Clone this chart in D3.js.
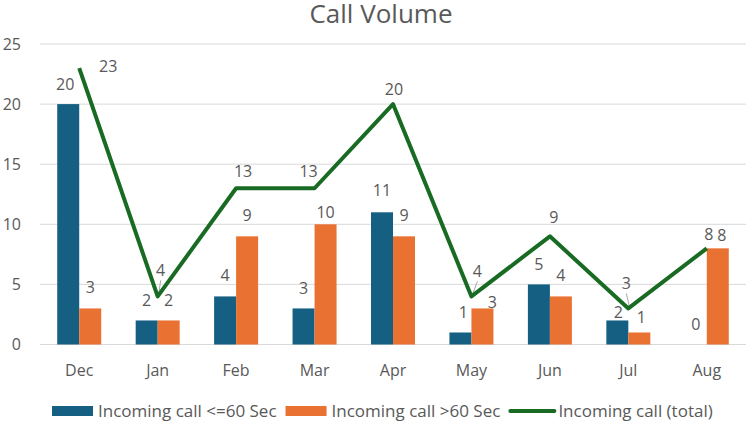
<!DOCTYPE html>
<html>
<head>
<meta charset="utf-8">
<script src="https://cdn.jsdelivr.net/npm/d3@7"></script>
<style>
  body { margin: 0; background: #fff; }
  svg text { font-family: "Open Sans", "Liberation Sans", sans-serif; fill: #595959; }
</style>
</head>
<body>
<div id="chart"></div>
<script>
// data
const months = ["Dec", "Jan", "Feb", "Mar", "Apr", "May", "Jun", "Jul", "Aug"];
const shortCalls = [20, 2, 4, 3, 11, 1, 5, 2, 0];   // <=60 Sec
const longCalls = [3, 2, 9, 10, 9, 3, 4, 1, 8];     // >60 Sec
const totalCalls = [23, 4, 13, 13, 20, 4, 9, 3, 8];
const yTicks = [0, 5, 10, 15, 20, 25];
const seriesNames = ["Incoming call <=60 Sec", "Incoming call >60 Sec", "Incoming call (total)"];

const W = 750, H = 424;
const colors = ["#156082", "#E97132", "#196B24"];

// label nudges (dx, dy) - the labels in the original were moved by hand in places
const shortOff = [[-3,-20],[0,-20],[0,-21],[0,-20],[0,-22],[3,-20],[0,-20],[1,-8],[0,-20]];
const longOff = [[0,-21],[0,-20],[0,-21],[0,-12],[0,-21],[10,-6],[0,-21],[2,-15],[4,-13]];
const totalOff = [[29,-2],[3,-26],[7,-17],[-6,-17],[1,-15],[6,-25],[4,-19],[-2,-25],[2,-14]];

const svg = d3.select("#chart").append("svg")
  .attr("width", W)
  .attr("height", H);

const x = d3.scaleBand()
  .domain(months)
  .range([40, 746])
  .padding(0);

const xs = d3.scaleBand()
  .domain([0, 1])
  .range([0, x.bandwidth()])
  .paddingInner(0)
  .paddingOuter(0.783);

const y = d3.scaleLinear()
  .domain([0, 25])
  .range([344.5, 44]);

// gridlines
svg.append("g")
  .selectAll("line")
  .data(yTicks)
  .join("line")
  .attr("x1", 40)
  .attr("x2", 746)
  .attr("y1", d => y(d))
  .attr("y2", d => y(d))
  .attr("stroke", "#d9d9d9")
  .attr("stroke-width", 1);

// y axis labels
svg.append("g")
  .selectAll("text")
  .data(yTicks)
  .join("text")
  .attr("x", 21)
  .attr("y", d => y(d))
  .attr("dy", "0.35em")
  .attr("text-anchor", "end")
  .style("font-size", "16px")
  .text(d => d);

// x axis labels
svg.append("g")
  .selectAll("text")
  .data(months)
  .join("text")
  .attr("x", d => x(d) + x.bandwidth() / 2)
  .attr("y", 370)
  .attr("dy", "0.35em")
  .attr("text-anchor", "middle")
  .style("font-size", "16px")
  .text(d => d);

// title
svg.append("text")
  .attr("x", 381)
  .attr("y", 23)
  .attr("text-anchor", "middle")
  .style("font-size", "26px")
  .text("Call Volume");

// bars
const barSeries = [shortCalls, longCalls];
const barOffs = [shortOff, longOff];

barSeries.forEach((vals, si) => {
  const g = svg.append("g");
  g.selectAll("rect")
    .data(vals)
    .join("rect")
    .attr("x", (d, i) => x(months[i]) + xs(si))
    .attr("y", d => y(d))
    .attr("width", xs.bandwidth())
    .attr("height", d => y(0) - y(d))
    .attr("fill", colors[si]);

  g.selectAll("text")
    .data(vals)
    .join("text")
    .attr("x", (d, i) => x(months[i]) + xs(si) + xs.bandwidth() / 2 + barOffs[si][i][0])
    .attr("y", (d, i) => y(d) + barOffs[si][i][1])
    .attr("dy", "0.35em")
    .attr("text-anchor", "middle")
    .style("font-size", "16px")
    .text(d => d);
});

// total line
const cx = i => x(months[i]) + x.bandwidth() / 2;

const line = d3.line()
  .x((d, i) => cx(i))
  .y(d => y(d));

// little leader lines where labels were dragged away
svg.append("g")
  .selectAll("line")
  .data(totalCalls.map((d, i) => ({ d, i })).filter(p => totalOff[p.i][1] < -22))
  .join("line")
  .attr("x1", p => cx(p.i) + totalOff[p.i][0])
  .attr("y1", p => y(p.d) + totalOff[p.i][1] + 10)
  .attr("x2", p => cx(p.i) + 1)
  .attr("y2", p => y(p.d) - 2)
  .attr("stroke", "#a6a6a6")
  .attr("stroke-width", 1);

svg.append("path")
  .datum(totalCalls)
  .attr("fill", "none")
  .attr("stroke", colors[2])
  .attr("stroke-width", 4)
  .attr("stroke-linejoin", "round")
  .attr("d", line);

svg.append("g")
  .selectAll("text")
  .data(totalCalls)
  .join("text")
  .attr("x", (d, i) => cx(i) + totalOff[i][0])
  .attr("y", (d, i) => y(d) + totalOff[i][1])
  .attr("dy", "0.35em")
  .attr("text-anchor", "middle")
  .style("font-size", "16px")
  .text(d => d);

// legend
const legend = svg.append("g").attr("transform", "translate(52,411)");
let lx = 0;
seriesNames.forEach((name, i) => {
  const item = legend.append("g").attr("transform", `translate(${lx},0)`);
  if (i < 2) {
    item.append("rect")
      .attr("x", 0).attr("y", -5)
      .attr("width", 41).attr("height", 10)
      .attr("fill", colors[i]);
  } else {
    item.append("line")
      .attr("x1", 1).attr("x2", 45)
      .attr("y1", 0).attr("y2", 0)
      .attr("stroke", colors[i])
      .attr("stroke-width", 4)
      .attr("stroke-linecap", "round");
  }
  const t = item.append("text")
    .attr("x", i < 2 ? 46 : 49)
    .attr("y", 0)
    .attr("dy", "0.35em")
    .style("font-size", "17px")
    .text(name);
  lx += (i < 2 ? 46 : 49) + t.node().getComputedTextLength() + 9;
});
</script>
</body>
</html>
